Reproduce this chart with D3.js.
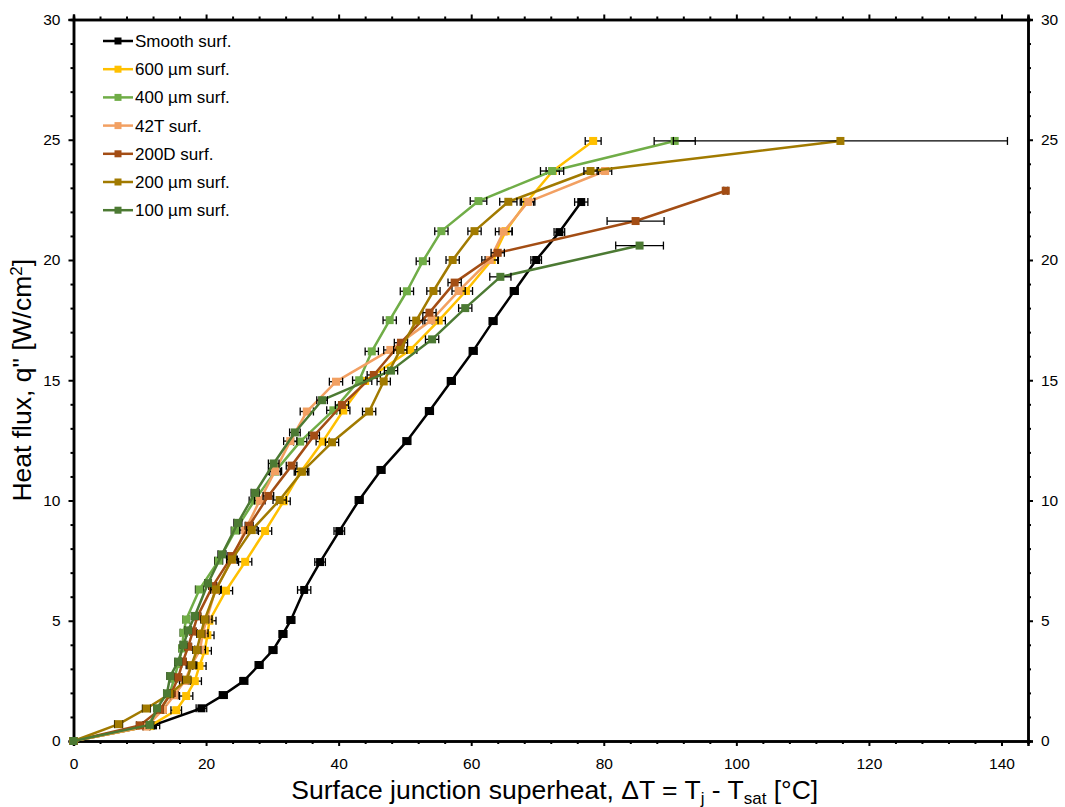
<!DOCTYPE html>
<html>
<head>
<meta charset="utf-8">
<script src="https://cdn.jsdelivr.net/npm/d3@7"></script>
<style>
  body { margin: 0; background: #fff; }
  svg text { font-family: "Liberation Sans", Arial, sans-serif; fill: #000; }
</style>
</head>
<body>
<div id="chart"></div>
<script>
// --- data (x = superheat °C, y = heat flux W/cm2, err = ± x) ---
const seriesNames = ["Smooth surf.", "600 \u00b5m surf.", "400 \u00b5m surf.", "42T surf.", "200D surf.", "200 \u00b5m surf.", "100 \u00b5m surf."];
const seriesColors = ["#000000", "#FFC000", "#70AD47", "#F2A062", "#A34D14", "#A17A00", "#4C7A33"];

const smoothX = [0, 12.0, 19.3, 22.6, 25.7, 28.0, 30.1, 31.6, 32.8, 34.8, 37.2, 40.1, 43.1, 46.4, 50.3, 53.7, 57.0, 60.3, 63.3, 66.5, 69.8, 73.3, 76.6];
const smoothY = [0, 0.65, 1.36, 1.91, 2.5, 3.16, 3.78, 4.45, 5.03, 6.28, 7.44, 8.73, 10.02, 11.27, 12.47, 13.72, 14.97, 16.22, 17.46, 18.71, 20.0, 21.16, 22.41];
const smoothErr = [0, 1.0, 0.8, 0.6, 0.6, 0.6, 0.6, 0.6, 0.6, 1.0, 0.8, 0.8, 0.6, 0.6, 0.6, 0.6, 0.6, 0.6, 0.6, 0.6, 0.8, 0.8, 1.0];

const s600X = [0, 11.5, 15.5, 17.0, 18.3, 19.0, 19.8, 20.2, 20.5, 23.0, 25.9, 28.9, 31.7, 34.3, 37.6, 40.7, 44.0, 50.8, 55.1, 59.2, 63.1, 65.2, 68.4, 72.3, 78.4];
const s600Y = [0, 0.62, 1.28, 1.87, 2.49, 3.12, 3.75, 4.4, 5.0, 6.25, 7.45, 8.73, 9.97, 11.2, 12.45, 13.74, 14.97, 16.26, 17.48, 18.71, 20.0, 21.2, 22.42, 23.7, 24.95];
const s600Err = [0, 0.6, 0.8, 1, 1, 1, 1, 1, 1, 1, 1, 1, 1, 1, 1, 1, 1, 1, 1, 1, 1, 1, 1, 1, 1.2];

const s400X = [0, 11.0, 13.2, 14.5, 15.2, 15.8, 16.4, 16.6, 17.0, 19.0, 21.9, 24.4, 27.3, 30.4, 34.2, 39.2, 43.1, 45.0, 47.7, 50.3, 52.7, 55.5, 61.1, 72.2, 90.7];
const s400Y = [0, 0.65, 1.3, 1.95, 2.6, 3.2, 3.85, 4.5, 5.05, 6.3, 7.5, 8.75, 10.0, 11.2, 12.45, 13.75, 15.0, 16.2, 17.5, 18.7, 19.95, 21.2, 22.45, 23.7, 24.95];
const s400Err = [0, 0.5, 0.5, 0.5, 0.5, 0.5, 0.5, 0.5, 0.5, 0.6, 0.6, 0.6, 0.8, 0.8, 1, 1, 1, 1, 1, 1, 1, 1, 1.25, 1.75, 3.1];

const s42TX = [0, 11.0, 13.5, 15.2, 16.8, 17.8, 19.1, 19.5, 20.1, 21.4, 23.9, 25.9, 28.1, 30.4, 32.7, 35.2, 39.6, 47.8, 54.0, 58.1, 62.8, 64.9, 68.6, 80.2];
const s42TY = [0, 0.6, 1.3, 1.9, 2.5, 3.15, 3.8, 4.48, 5.06, 6.28, 7.53, 8.77, 10.0, 11.22, 12.47, 13.7, 14.94, 16.26, 17.5, 18.71, 20.0, 21.18, 22.42, 23.7];
const s42TErr = [0, 0.5, 0.5, 0.6, 0.8, 0.8, 0.8, 0.8, 0.8, 0.8, 0.8, 0.8, 0.8, 1, 1, 1, 1, 1, 1, 1, 1.2, 1.25, 1, 1];

const s200DX = [0, 10.0, 13.0, 14.8, 15.8, 16.5, 17.3, 18.0, 18.7, 21.0, 23.9, 26.5, 29.4, 32.9, 36.3, 40.5, 45.3, 49.4, 53.7, 57.5, 64.0, 84.8, 98.4];
const s200DY = [0, 0.65, 1.3, 2.0, 2.65, 3.3, 3.92, 4.55, 5.18, 6.44, 7.69, 8.95, 10.19, 11.45, 12.7, 13.97, 15.22, 16.56, 17.81, 19.06, 20.3, 21.62, 22.88];
const s200DErr = [0, 0.5, 0.5, 0.5, 0.5, 0.5, 0.5, 0.5, 0.5, 0.6, 0.6, 0.6, 0.8, 0.8, 0.8, 1, 1, 1, 1, 1, 1, 4.3, 0.3];

const s200X = [0, 6.8, 11.0, 14.5, 17.1, 17.8, 18.6, 19.2, 19.8, 21.5, 23.9, 26.9, 31.1, 34.5, 39.0, 44.6, 46.8, 49.3, 51.7, 54.3, 57.2, 60.5, 65.6, 78.0, 115.7];
const s200Y = [0, 0.7, 1.35, 1.95, 2.55, 3.15, 3.78, 4.45, 5.05, 6.3, 7.55, 8.77, 10.02, 11.2, 12.42, 13.7, 14.95, 16.26, 17.48, 18.71, 20.0, 21.2, 22.42, 23.7, 24.95];
const s200Err = [0, 0.6, 0.6, 0.6, 0.6, 0.6, 0.6, 0.6, 0.6, 0.8, 0.8, 0.8, 1, 1, 1, 1, 1, 1, 1, 1, 1, 1, 1.3, 1, 25.2];

const s100X = [0, 11.5, 12.6, 14.1, 14.6, 15.8, 16.6, 17.3, 18.3, 20.3, 22.4, 24.8, 27.4, 30.2, 33.4, 37.5, 47.9, 54.1, 59.1, 64.4, 85.4];
const s100Y = [0, 0.67, 1.36, 1.98, 2.7, 3.3, 4.0, 4.6, 5.2, 6.56, 7.76, 9.07, 10.32, 11.54, 12.83, 14.17, 15.4, 16.7, 18.0, 19.3, 20.6];
const s100Err = [0, 0.5, 0.5, 0.5, 0.5, 0.5, 0.5, 0.5, 0.5, 0.5, 0.6, 0.6, 0.6, 0.8, 0.8, 0.8, 1, 1, 1, 1.6, 3.6];

const xTicks = [0, 20, 40, 60, 80, 100, 120, 140];
const yTicks = [0, 5, 10, 15, 20, 25, 30];

document.addEventListener('DOMContentLoaded', function() {
    drawBoilingCurves('chart');
});

function drawBoilingCurves(containerId) {
    const width = 1065, height = 807;
    const margin = { top: 19.5, right: 37, bottom: 66, left: 73.5 };

    const allX = [smoothX, s600X, s400X, s42TX, s200DX, s200X, s100X];
    const allY = [smoothY, s600Y, s400Y, s42TY, s200DY, s200Y, s100Y];
    const allErr = [smoothErr, s600Err, s400Err, s42TErr, s200DErr, s200Err, s100Err];

    const series = seriesNames.map((name, i) => ({
        name: name,
        color: seriesColors[i],
        points: allX[i].map((x, j) => ({ x: x, y: allY[i][j], e: allErr[i][j] }))
    }));

    const svg = d3.select('#' + containerId).append('svg')
        .attr('width', width)
        .attr('height', height);

    const x = d3.scaleLinear().domain([0, 144]).range([margin.left, width - margin.right]);
    const y = d3.scaleLinear().domain([0, 30]).range([height - margin.bottom, margin.top]);

    // 轴: minor ticks first, then major ticks with labels
    const minorX = d3.range(0, 145, 4).filter(v => v % 20 !== 0);
    const minorY = d3.range(0, 31, 1).filter(v => v % 5 !== 0);

    function styleAxis(g) {
        g.select('.domain').attr('stroke', '#000').attr('stroke-width', 2.5);
        g.selectAll('.tick line').attr('stroke', '#000').attr('stroke-width', 2);
        g.selectAll('.tick text').style('font-size', '15.5px').attr('fill', '#000');
    }

    const bottom = svg.append('g').attr('transform', `translate(0,${y(0)})`);
    bottom.append('g').call(d3.axisBottom(x).tickValues(minorX).tickSize(3).tickFormat(''));
    bottom.append('g').call(d3.axisBottom(x).tickValues(xTicks).tickSize(5).tickPadding(12));
    bottom.selectAll('g').call(styleAxis);

    const top = svg.append('g').attr('transform', `translate(0,${y(30)})`);
    top.append('g').call(d3.axisTop(x).tickValues(minorX).tickSize(3).tickFormat(''));
    top.append('g').call(d3.axisTop(x).tickValues(xTicks).tickSize(5).tickFormat(''));
    top.selectAll('g').call(styleAxis);

    const left = svg.append('g').attr('transform', `translate(${x(0)},0)`);
    left.append('g').call(d3.axisLeft(y).tickValues(minorY).tickSize(3).tickFormat(''));
    left.append('g').call(d3.axisLeft(y).tickValues(yTicks).tickSize(5).tickPadding(8));
    left.selectAll('g').call(styleAxis);

    const right = svg.append('g').attr('transform', `translate(${x(144)},0)`);
    right.append('g').call(d3.axisRight(y).tickValues(minorY).tickSize(3).tickFormat(''));
    right.append('g').call(d3.axisRight(y).tickValues(yTicks).tickSize(5).tickPadding(8));
    right.selectAll('g').call(styleAxis);

    // --- series: line, error bars, markers ---
    const line = d3.line().x(d => x(d.x)).y(d => y(d.y));
    const cap = 4;

    series.forEach(s => {
        const g = svg.append('g');
        g.append('path')
            .datum(s.points)
            .attr('fill', 'none')
            .attr('stroke', s.color)
            .attr('stroke-width', 2.5)
            .attr('stroke-linejoin', 'round')
            .attr('d', line);

        const eb = g.append('g')
            .attr('stroke', '#000')
            .attr('stroke-width', 1.3)
            .selectAll('g')
            .data(s.points.filter(d => d.e > 0))
            .enter().append('g');
        eb.append('line')
            .attr('x1', d => x(d.x - d.e)).attr('x2', d => x(d.x + d.e))
            .attr('y1', d => y(d.y)).attr('y2', d => y(d.y));
        eb.append('line')
            .attr('x1', d => x(d.x - d.e)).attr('x2', d => x(d.x - d.e))
            .attr('y1', d => y(d.y) - cap).attr('y2', d => y(d.y) + cap);
        eb.append('line')
            .attr('x1', d => x(d.x + d.e)).attr('x2', d => x(d.x + d.e))
            .attr('y1', d => y(d.y) - cap).attr('y2', d => y(d.y) + cap);

        g.selectAll('rect')
            .data(s.points)
            .enter().append('rect')
            .attr('x', d => x(d.x) - 4)
            .attr('y', d => y(d.y) - 4)
            .attr('width', 8)
            .attr('height', 8)
            .attr('fill', s.color);
    });

    // --- legend ---
    const legend = svg.append('g').attr('transform', 'translate(103,41)');
    const items = legend.selectAll('g')
        .data(series)
        .enter().append('g')
        .attr('transform', (d, i) => `translate(0,${i * 28.2})`);
    items.append('line')
        .attr('x1', 0).attr('x2', 30)
        .attr('stroke', d => d.color)
        .attr('stroke-width', 2.5);
    items.append('rect')
        .attr('x', 11.5).attr('y', -3.5)
        .attr('width', 7).attr('height', 7)
        .attr('fill', d => d.color);
    items.append('text')
        .attr('x', 32)
        .attr('dy', '0.35em')
        .style('font-size', '17px')
        .text(d => d.name);

    // --- axis titles ---
    const xTitle = svg.append('text')
        .attr('x', (x(0) + x(144)) / 2 + 4)
        .attr('y', 799)
        .attr('text-anchor', 'middle')
        .style('font-size', '26.5px');
    xTitle.append('tspan').text('Surface junction superheat, \u0394T = T');
    xTitle.append('tspan').attr('dy', 5).style('font-size', '17px').text('j');
    xTitle.append('tspan').attr('dy', -5).text(' - T');
    xTitle.append('tspan').attr('dy', 5).style('font-size', '17px').text('sat');
    xTitle.append('tspan').attr('dy', -5).text(' [\u00b0C]');

    const yTitle = svg.append('text')
        .attr('transform', `translate(31,${(y(0) + y(30)) / 2}) rotate(-90)`)
        .attr('text-anchor', 'middle')
        .style('font-size', '26.5px');
    yTitle.append('tspan').text('Heat flux, q" [W/cm');
    yTitle.append('tspan').attr('dy', -9).style('font-size', '17px').text('2');
    yTitle.append('tspan').attr('dy', 9).text(']');
}
</script>
</body>
</html>
